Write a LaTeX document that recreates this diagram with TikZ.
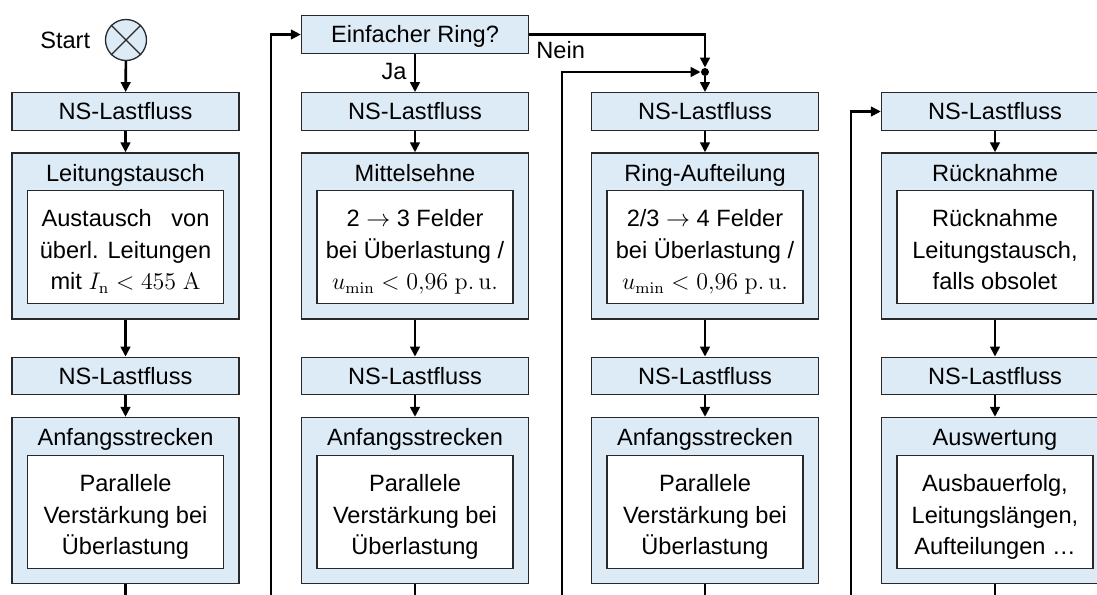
\documentclass[tikz,border=0pt]{standalone}
\usepackage[no-math]{fontspec}
\setmainfont{Liberation Sans}
\usetikzlibrary{arrows.meta}
\definecolor{boxblue}{RGB}{221,235,247}
\definecolor{edgegray}{RGB}{40,40,40}
\newcommand{\myTopStrut}{\rule{0pt}{14.1pt}}
\newcommand{\myBotStrut}{\rule[-3pt]{0pt}{3pt}}
\begin{document}
\begin{tikzpicture}[x=0.5pt,y=-0.5pt,
  every node/.style={font=\fontsize{11.8}{15.8}\selectfont, inner sep=0pt},
  nsbox/.style={draw=edgegray, line width=0.65pt, fill=boxblue, minimum width=113.5pt, minimum height=18.75pt, text height=8.45pt, text depth=0pt},
  outerbox/.style={draw=edgegray, line width=0.65pt, fill=boxblue, minimum width=113.5pt, minimum height=83pt},
  innerbox/.style={draw=edgegray, line width=0.65pt, fill=white, minimum width=98pt, minimum height=56.5pt, align=center},
  titletext/.style={text height=8.45pt, text depth=0pt},
  flow/.style={line width=1.3pt, -{Triangle[length=5pt,width=4.8pt]}},
  plain/.style={line width=1.3pt},
]
\useasboundingbox (0,0) rectangle (1097,594);
\clip (0,0) rectangle (1097,594);

% start
\node[circle, draw=edgegray, line width=0.65pt, fill=boxblue, minimum size=20.5pt] (start) at (126,40) {};
\draw[edgegray, line width=0.65pt] (start.north west) -- (start.south east) (start.north east) -- (start.south west);
\node[anchor=east, titletext] (startlbl) at (90.5,40) {Start};

% decision
\node[nsbox] (ring) at (415,34.5) {Einfacher Ring?};
\node[circle, fill=black, minimum size=4pt] (dot) at (705,72) {};

% row 1 NS boxes
\node[nsbox] (ns1a) at (125.5,111.5) {NS-Lastfluss};
\node[nsbox] (ns1b) at (415,111.5) {NS-Lastfluss};
\node[nsbox] (ns1c) at (705,111.5) {NS-Lastfluss};
\node[nsbox] (ns1d) at (995,111.5) {NS-Lastfluss};

% row 1 big boxes
\node[outerbox] (big1a) at (125.5,236) {};
\node[outerbox] (big1b) at (415,236) {};
\node[outerbox] (big1c) at (705,236) {};
\node[outerbox] (big1d) at (995,236) {};
\node[titletext] (t1a) at (125.5,173) {Leitungstausch};
\node[titletext] (t1b) at (415,173) {Mittelsehne};
\node[titletext] (t1c) at (705,173) {Ring-Aufteilung};
\node[titletext] (t1d) at (995,173) {Rücknahme};
\node[innerbox] (i1a) at (125.5,247) {\myTopStrut Austausch\ \ \ von\\überl. Leitungen\\mit $I_{\mathrm{n}} < 455\ \mathrm{A}$\myBotStrut};
\node[innerbox] (i1b) at (415,247) {\myTopStrut 2 $\rightarrow$ 3 Felder\\bei Überlastung /\\$u_{\mathrm{min}} < 0{,}96\ \mathrm{p.\,u.}$\myBotStrut};
\node[innerbox] (i1c) at (705,247) {\myTopStrut 2/3 $\rightarrow$ 4 Felder\\bei Überlastung /\\$u_{\mathrm{min}} < 0{,}96\ \mathrm{p.\,u.}$\myBotStrut};
\node[innerbox] (i1d) at (995,247) {\myTopStrut Rücknahme\\Leitungstausch,\\falls obsolet\myBotStrut};

% row 2 NS boxes
\node[nsbox] (ns2a) at (125.5,376) {NS-Lastfluss};
\node[nsbox] (ns2b) at (415,376) {NS-Lastfluss};
\node[nsbox] (ns2c) at (705,376) {NS-Lastfluss};
\node[nsbox] (ns2d) at (995,376) {NS-Lastfluss};

% row 2 big boxes
\node[outerbox] (big2a) at (125.5,500.5) {};
\node[outerbox] (big2b) at (415,500.5) {};
\node[outerbox] (big2c) at (705,500.5) {};
\node[outerbox] (big2d) at (995,500.5) {};
\node[titletext] (t2a) at (125.5,437) {Anfangsstrecken};
\node[titletext] (t2b) at (415,437) {Anfangsstrecken};
\node[titletext] (t2c) at (705,437) {Anfangsstrecken};
\node[titletext] (t2d) at (995,437) {Auswertung};
\node[innerbox] (i2a) at (125.5,512) {\myTopStrut Parallele\\Verstärkung bei\\Überlastung\myBotStrut};
\node[innerbox] (i2b) at (415,512) {\myTopStrut Parallele\\Verstärkung bei\\Überlastung\myBotStrut};
\node[innerbox] (i2c) at (705,512) {\myTopStrut Parallele\\Verstärkung bei\\Überlastung\myBotStrut};
\node[innerbox] (i2d) at (995,512) {\myTopStrut Ausbauerfolg,\\Leitungslängen,\\Aufteilungen \dots\myBotStrut};

% labels
\node[anchor=east, titletext] (ja) at (407,71) {Ja};
\node[anchor=west, titletext] (nein) at (536,50) {Nein};

% coordinates for free ends
\coordinate (l1) at (271,600);
\coordinate (l2) at (562,600);
\coordinate (l3) at (851,600);
\coordinate (ea) at (125.5,600);
\coordinate (eb) at (415,600);
\coordinate (ec) at (705,600);
\coordinate (ed) at (995,600);

% connectors
\draw[flow] (start) -- (ns1a);
\draw[flow] (ring) -- (ns1b);
\draw[flow] (ring.east) -| (dot.north);
\draw[flow] (dot.south) -- (ns1c);
\draw[flow] (l1) |- (ring.west);
\draw[flow] (l2) |- (dot.west);
\draw[flow] (l3) |- (ns1d.west);

\foreach \c in {a,b,c,d}{
  \draw[flow] (ns1\c) -- (big1\c);
  \draw[flow] (big1\c) -- (ns2\c);
  \draw[flow] (ns2\c) -- (big2\c);
  \draw[plain] (big2\c) -- (e\c);
}
\end{tikzpicture}
\end{document}
